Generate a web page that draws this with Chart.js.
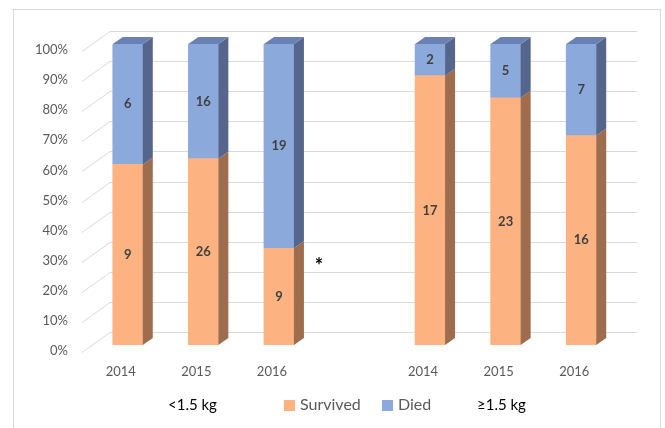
<!DOCTYPE html>
<html>
<head>
<meta charset="utf-8">
<script src="https://cdn.jsdelivr.net/npm/chart.js@4"></script>
<style>
  html, body { margin: 0; padding: 0; background: #fff; }
  #wrap { width: 665px; height: 428px; position: relative; }
</style>
</head>
<body>
<div id="wrap"><canvas id="chart" width="665" height="428"></canvas></div>
<script>
// Chart data (counts, empty slot separates the two groups)
var years = ['2014', '2015', '2016', '', '2014', '2015', '2016'];
var survived = [9, 26, 9, null, 17, 23, 16];
var died = [6, 16, 19, null, 2, 5, 7];
var yTicks = [0, 10, 20, 30, 40, 50, 60, 70, 80, 90, 100];
var groupLabels = ['<1.5 kg', '\u22651.5 kg'];

var FONT = 'Lato, "Open Sans", sans-serif';
var DX = 10, DY = 7;          // bar depth
var WALL_DX = 18, WALL_DY = 13; // back wall offset from bar front

// Share of each outcome in percent
function share(a, b) {
    return a.map(function(v, i) {
        if (v === null) return null;
        return v / (v + b[i]) * 100;
    });
}

var colors = {
    survived: { front: '#FDB381', side: '#9E6D4D', top: '#C98C62' },
    died: { front: '#8CA9DC', side: '#56658B', top: '#6B80B3' }
};

// Grid lines on the back wall plus diagonals toward the labels
var wallPlugin = {
    id: 'wall',
    beforeDatasetsDraw: function(chart) {
        var ctx = chart.ctx;
        var y = chart.scales.y;
        var area = chart.chartArea;
        ctx.save();
        ctx.strokeStyle = '#D9D9D9';
        ctx.lineWidth = 1;
        yTicks.forEach(function(v) {
            var yb = Math.round(y.getPixelForValue(v) - WALL_DY) + 0.5;
            ctx.beginPath();
            ctx.moveTo(82, yb + 20);
            ctx.lineTo(110, yb);
            ctx.lineTo(area.right + WALL_DX, yb);
            ctx.stroke();
        });
        // tick labels
        ctx.fillStyle = '#595959';
        ctx.font = '13px ' + FONT;
        ctx.textAlign = 'right';
        ctx.textBaseline = 'middle';
        yTicks.forEach(function(v) {
            ctx.fillText(v + '%', 68, y.getPixelForValue(v) + 6);
        });
        // category labels
        var x = chart.scales.x;
        ctx.textAlign = 'center';
        years.forEach(function(lbl, i) {
            if (lbl) ctx.fillText(lbl, x.getPixelForValue(i) - 7, 372);
        });
        ctx.restore();
    }
};

// Side and top faces of each bar, then the count labels
var boxPlugin = {
    id: 'box',
    afterDatasetsDraw: function(chart) {
        var ctx = chart.ctx;
        ctx.save();
        var last = chart.data.datasets.length - 1;
        chart.data.datasets.forEach(function(ds, di) {
            var meta = chart.getDatasetMeta(di);
            meta.data.forEach(function(bar, i) {
                if (ds.data[i] === null) return;
                var half = bar.width / 2;
                var r = bar.x + half, l = bar.x - half;
                ctx.fillStyle = ds.sideColor;
                ctx.beginPath();
                ctx.moveTo(r, bar.y);
                ctx.lineTo(r + DX, bar.y - DY);
                ctx.lineTo(r + DX, bar.base - DY);
                ctx.lineTo(r, bar.base);
                ctx.closePath();
                ctx.fill();
                if (di === last) {
                    ctx.fillStyle = ds.topColor;
                    ctx.beginPath();
                    ctx.moveTo(l, bar.y);
                    ctx.lineTo(l + DX, bar.y - DY);
                    ctx.lineTo(r + DX, bar.y - DY);
                    ctx.lineTo(r, bar.y);
                    ctx.closePath();
                    ctx.fill();
                }
            });
        });
        ctx.fillStyle = '#404040';
        ctx.font = 'bold 13px ' + FONT;
        ctx.textAlign = 'center';
        ctx.textBaseline = 'middle';
        chart.data.datasets.forEach(function(ds, di) {
            var meta = chart.getDatasetMeta(di);
            meta.data.forEach(function(bar, i) {
                if (ds.data[i] === null) return;
                ctx.fillText(String(ds.counts[i]), bar.x, (bar.y + bar.base) / 2);
            });
        });
        ctx.restore();
    }
};

// Border, legend, group labels and the asterisk
var framePlugin = {
    id: 'frame',
    afterDraw: function(chart) {
        var ctx = chart.ctx;
        ctx.save();
        ctx.strokeStyle = '#D9D9D9';
        ctx.lineWidth = 1;
        ctx.strokeRect(13.5, 9.5, 647, 425);

        ctx.textBaseline = 'middle';
        ctx.font = '15px ' + FONT;
        ctx.fillStyle = '#000';
        ctx.textAlign = 'left';
        ctx.fillText(groupLabels[0], 168, 405);
        ctx.fillText(groupLabels[1], 477, 405);

        ctx.fillStyle = colors.survived.front;
        ctx.fillRect(284, 400, 11, 11);
        ctx.fillStyle = colors.died.front;
        ctx.fillRect(382, 400, 11, 11);
        ctx.fillStyle = '#595959';
        ctx.font = '16px ' + FONT;
        ctx.fillText('Survived', 300, 405);
        ctx.fillText('Died', 398, 405);

        ctx.fillStyle = '#000';
        ctx.font = 'bold 20px ' + FONT;
        ctx.textAlign = 'center';
        ctx.fillText('*', 319, 267);
        ctx.restore();
    }
};

new Chart(document.getElementById('chart'), {
    type: 'bar',
    data: {
        labels: years,
        datasets: [{
            label: 'Survived',
            data: share(survived, died),
            counts: survived,
            backgroundColor: colors.survived.front,
            sideColor: colors.survived.side,
            topColor: colors.survived.top,
            barThickness: 30
        }, {
            label: 'Died',
            data: share(died, survived),
            counts: died,
            backgroundColor: colors.died.front,
            sideColor: colors.died.side,
            topColor: colors.died.top,
            barThickness: 30
        }]
    },
    options: {
        responsive: false,
        animation: false,
        layout: { padding: { left: 90, right: 46, top: 44, bottom: 83 } },
        plugins: { legend: { display: false }, tooltip: { enabled: false } },
        scales: {
            x: { stacked: true, display: false },
            y: { stacked: true, display: false, min: 0, max: 100 }
        }
    },
    plugins: [wallPlugin, boxPlugin, framePlugin]
});
</script>
</body>
</html>
